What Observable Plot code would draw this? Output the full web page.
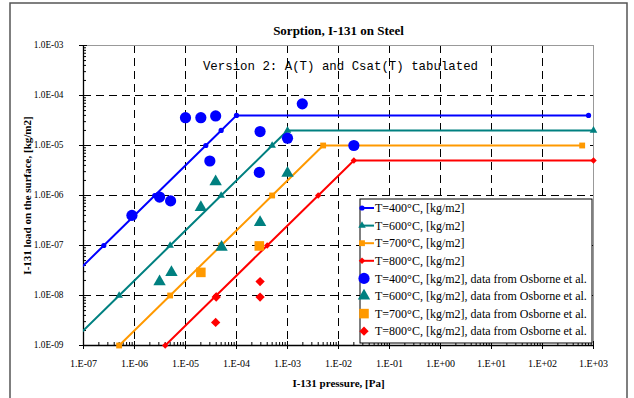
<!DOCTYPE html>
<html><head><meta charset="utf-8">
<script src="https://cdn.jsdelivr.net/npm/d3@7"></script>
<script src="https://cdn.jsdelivr.net/npm/@observablehq/plot@0.6"></script>
<style>
body{margin:0;background:#fff;}
#wrap{position:relative;width:634px;height:398px;overflow:hidden;}
#wrap svg{position:absolute;left:0;top:0;}
</style></head><body><div id="wrap"></div>
<script>
// ---- tick labels ----
const xTicks = [1e-7,1e-6,1e-5,1e-4,1e-3,1e-2,1e-1,1e0,1e1,1e2,1e3];
const xTickLabels = ["1.E-07","1.E-06","1.E-05","1.E-04","1.E-03","1.E-02","1.E-01","1.E+00","1.E+01","1.E+02","1.E+03"];
const yTicks = [1e-9,1e-8,1e-7,1e-6,1e-5,1e-4,1e-3];
const yTickLabels = ["1.0E-09","1.0E-08","1.0E-07","1.0E-06","1.0E-05","1.0E-04","1.0E-03"];

// ---- model curves (pressure Pa, load kg/m2) ----
const series = ["T=400°C, [kg/m2]","T=600°C, [kg/m2]","T=700°C, [kg/m2]","T=800°C, [kg/m2]"];
const p400 = [2.5e-8, 2.5e-7, 2.5e-6, 2.5e-5, 5e-5, 1e-4, 8e2];
const c400 = [1e-8, 1e-7, 1e-6, 1e-5, 2e-5, 4e-5, 4e-5];
const p600 = [5e-8, 5e-7, 5e-6, 5e-5, 5e-4, 1e-3, 1e3];
const c600 = [1e-9, 1e-8, 1e-7, 1e-6, 1e-5, 2e-5, 2e-5];
const p700 = [5e-7, 5e-6, 5e-5, 5e-4, 5e-3, 6e2];
const c700 = [1e-9, 1e-8, 1e-7, 1e-6, 1e-5, 1e-5];
const p800 = [4e-6, 4e-5, 4e-4, 4e-3, 2e-2, 1e3];
const c800 = [1e-9, 1e-8, 1e-7, 1e-6, 5e-6, 5e-6];

// ---- Osborne et al. data ----
const dataSeries = ["T=400°C, [kg/m2], data from Osborne et al.","T=600°C, [kg/m2], data from Osborne et al.","T=700°C, [kg/m2], data from Osborne et al.","T=800°C, [kg/m2], data from Osborne et al."];
const o400p = [8.9e-7, 3.1e-6, 5.1e-6, 1e-5, 2e-5, 3.9e-5, 3e-5, 2.8e-4, 2.9e-4, 1e-3, 1.95e-3, 2e-2];
const o400c = [4e-7, 9.3e-7, 7.8e-7, 3.6e-5, 3.6e-5, 3.9e-5, 4.9e-6, 2.9e-6, 1.9e-5, 1.4e-5, 6.8e-5, 1e-5];
const o600p = [3.1e-6, 5.3e-6, 2e-5, 3.9e-5, 5.1e-5, 2.9e-4, 1e-3];
const o600c = [1.9e-8, 2.9e-8, 5.8e-7, 1.9e-6, 9.3e-8, 2.9e-7, 2.8e-6];
const o700p = [2e-5, 2.8e-4];
const o700c = [2.9e-8, 9.8e-8];
const o800p = [4e-5, 3.9e-5, 2.9e-4, 2.9e-4];
const o800c = [9.3e-9, 2.9e-9, 1.9e-8, 9.3e-9];

const colors = ["#0000ff","#008080","#ff9900","#ff0000"];
const symbols = ["circle","triangle","square","diamond2"];
const lineR = [2.6, 2.8, 3.3, 2.9];
const dataR = [5.6, 4.6, 5.4, 4.2];

const rows = (ps, cs) => ps.map((p, i) => ({p, c: cs[i]}));
const model = [rows(p400,c400), rows(p600,c600), rows(p700,c700), rows(p800,c800)];
const obs = [rows(o400p,o400c), rows(o600p,o600c), rows(o700p,o700c), rows(o800p,o800c)];

const minorX = []; for (let e = -7; e < 3; e++) for (let k = 2; k <= 9; k++) minorX.push(k * 10 ** e);
const minorY = []; for (let e = -9; e < -3; e++) for (let k = 2; k <= 9; k++) minorY.push(k * 10 ** e);

const marks = [
  Plot.gridX(xTicks.slice(1, -1), {stroke: "#000", strokeOpacity: 1, strokeDasharray: "8,5"}),
  Plot.gridY(yTicks.slice(1, -1), {stroke: "#000", strokeOpacity: 1, strokeDasharray: "8,5"}),
  Plot.ruleX([xTicks[xTicks.length - 1]], {stroke: "#999"}),
  Plot.ruleY([yTicks[yTicks.length - 1]], {stroke: "#999"}),
  Plot.ruleX([xTicks[0]], {stroke: "#000", strokeWidth: 1.3}),
  Plot.ruleY([yTicks[0]], {stroke: "#000", strokeWidth: 1.3}),
  Plot.axisX(xTicks, {label: null, tickSize: 4, tickPadding: 10, tickFormat: d => xTickLabels[xTicks.indexOf(d)], fontSize: 10}),
  Plot.axisX(xTicks, {label: null, tickSize: -4, tickFormat: () => ""}),
  Plot.axisX(minorX, {label: null, tickSize: -3, tickFormat: () => ""}),
  Plot.axisY(yTicks, {label: null, tickSize: 4, tickPadding: 16, tickFormat: d => yTickLabels[yTicks.indexOf(d)], fontSize: 9.3}),
  Plot.axisY(yTicks, {label: null, tickSize: -4, tickFormat: () => ""}),
  Plot.axisY(minorY, {label: null, tickSize: -3, tickFormat: () => ""}),
];
model.forEach((d, i) => {
  marks.push(Plot.line(d, {x: "p", y: "c", stroke: colors[i], strokeWidth: 2, clip: true}));
  marks.push(Plot.dot(d, {x: "p", y: "c", fill: colors[i], symbol: symbols[i], r: lineR[i], filter: v => v.p >= 1e-7}));
});
obs.forEach((d, i) => {
  marks.push(Plot.dot(d, {x: "p", y: "c", fill: colors[i], symbol: symbols[i], r: dataR[i]}));
});
marks.push(
  Plot.text(["Sorption, I-131 on Steel"], {frameAnchor: "top", dy: -20, fontWeight: "bold", fontSize: 13}),
  Plot.text(["Version 2: A(T) and Csat(T) tabulated"], {frameAnchor: "top", dy: 16, dx: 2, fontFamily: "Liberation Mono", fontSize: 12.4}),
  Plot.text(["I-131 pressure, [Pa]"], {frameAnchor: "bottom", dy: 41, fontWeight: "bold", fontSize: 11}),
  Plot.text(["I-131 load on the surface, [kg/m2]"], {frameAnchor: "left", dx: -56, rotate: -90, textAnchor: "middle", fontWeight: "bold", fontSize: 11})
);

const chart = Plot.plot({
  width: 634, height: 398,
  marginLeft: 83, marginRight: 41, marginTop: 45, marginBottom: 53,
  x: {type: "log", domain: [1e-7, 1e3], label: null},
  y: {type: "log", domain: [1e-9, 1e-3], label: null},
  style: {fontFamily: "Liberation Serif", fontSize: "10px", color: "#000", background: "#fff"},
  marks
});
const wrap = document.getElementById("wrap");
wrap.appendChild(chart);

// ---- overlay: outer frame and legend ----
const ov = d3.select(wrap).append("svg").attr("width", 634).attr("height", 398);
ov.append("rect").attr("x", 10).attr("y", 3).attr("width", 617).attr("height", 400)
  .attr("fill", "none").attr("stroke", "#555").attr("stroke-width", 1.5);
const lg = ov.append("g").attr("font-family", "Liberation Serif").attr("font-size", 12);
lg.append("rect").attr("x", 360).attr("y", 199).attr("width", 232).attr("height", 144)
  .attr("fill", "#fff").attr("stroke", "#000");
const labels = series.concat(dataSeries);
labels.forEach((t, j) => {
  const i = j % 4, isData = j >= 4;
  const y = 208 + j * 17.6;
  const sym = {circle: d3.symbolCircle, triangle: d3.symbolTriangle, square: d3.symbolSquare, diamond2: d3.symbolDiamond2}[symbols[i]];
  const r = isData ? dataR[i] : lineR[i];
  if (!isData) lg.append("line").attr("x1", 361).attr("x2", 374).attr("y1", y).attr("y2", y).attr("stroke", colors[i]).attr("stroke-width", 2);
  lg.append("path").attr("d", d3.symbol(sym, Math.PI * r * r)()).attr("transform", `translate(${isData ? 364 : 362},${y})`).attr("fill", colors[i]);
  lg.append("text").attr("x", 375).attr("y", y).attr("dy", "0.35em").text(t);
});
</script></body></html>
